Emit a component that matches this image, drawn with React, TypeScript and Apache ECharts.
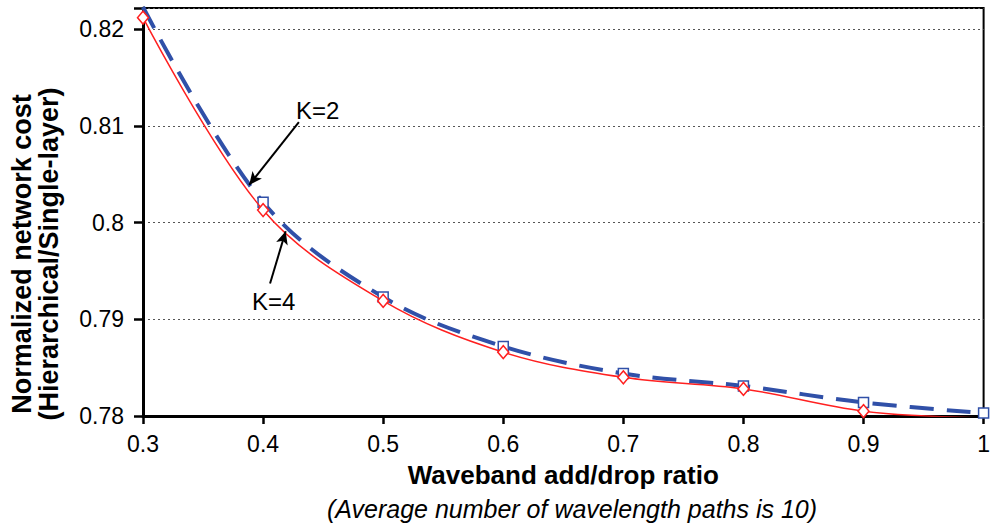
import React, { useEffect, useRef } from "react";
import * as echarts from "echarts";

const xValues = [0.3, 0.4, 0.5, 0.6, 0.7, 0.8, 0.9, 1.0];
const k2Values = [0.8223, 0.8021, 0.7923, 0.7872, 0.7844, 0.7831, 0.7814, 0.7803];
const k4Values = [0.8212, 0.8013, 0.7919, 0.7866, 0.784, 0.7828, 0.7805, 0.7798];
const yTicks = [0.78, 0.79, 0.8, 0.81, 0.82];
const k2Label = "K=2";
const k4Label = "K=4";
const k2Arrow = [[0.4298, 0.8104], [0.3884, 0.8039]];
const k4Arrow = [[0.4058, 0.7937], [0.4188, 0.7991]];

const FONT = "Liberation Sans, Arial, sans-serif";

export default function App() {
  const ref = useRef<HTMLDivElement>(null);
  useEffect(() => {
    const chart = echarts.init(ref.current!, undefined, { renderer: "svg" });
    const arrowLine = (pts: number[][]) => ({
      silent: true,
      symbol: ["none", "arrow"],
      symbolSize: [9, 13],
      label: { show: false },
      lineStyle: { color: "#000", width: 2, type: "solid" },
      data: [[{ coord: pts[0] }, { coord: pts[1] }]],
    });
    chart.setOption({
      animation: false,
      backgroundColor: "#fff",
      textStyle: { fontFamily: FONT },
      grid: {
        left: 143, right: 3, top: 8, bottom: 114,
        show: true, borderColor: "#000", borderWidth: 2,
      },
      xAxis: {
        type: "value", min: 0.3, max: 1, interval: 0.1,
        name: "Waveband add/drop ratio",
        nameLocation: "middle", nameGap: 46,
        nameTextStyle: { fontSize: 26, fontWeight: "bold", color: "#000", fontFamily: FONT },
        axisLine: { show: true, lineStyle: { color: "#000", width: 3 } },
        axisTick: { show: true, length: 8, lineStyle: { color: "#000", width: 2.5 } },
        axisLabel: {
          fontSize: 23, color: "#000", margin: 16, fontFamily: FONT,
          formatter: (v: number) => String(Math.round(v * 10) / 10),
        },
        splitLine: { show: false },
      },
      yAxis: {
        type: "value", min: 0.78, max: 0.8222, interval: 0.01,
        axisLine: { show: true, lineStyle: { color: "#000", width: 3 } },
        axisTick: { show: true, length: 9, lineStyle: { color: "#000", width: 2.5 } },
        axisLabel: {
          fontSize: 23, color: "#000", margin: 19, fontFamily: FONT,
          formatter: (v: number) => {
            const m = yTicks.find((t) => Math.abs(t - v) < 1e-6);
            return m === undefined ? "" : String(m);
          },
        },
        splitLine: { show: true, lineStyle: { color: "#555", width: 1, type: [2, 3] } },
      },
      series: [
        {
          name: k4Label,
          type: "line",
          smooth: 0.35,
          data: xValues.map((x, i) => [x, k4Values[i]]),
          symbol: "diamond",
          symbolSize: [11, 13],
          itemStyle: { color: "#fff", borderColor: "#ff2020", borderWidth: 1.5 },
          lineStyle: { color: "#ff2020", width: 1.5 },
          z: 3,
        },
        {
          name: k2Label,
          type: "line",
          smooth: 0.35,
          data: xValues.map((x, i) => [x, k2Values[i]]),
          symbol: "rect",
          symbolSize: 10,
          itemStyle: { color: "#fff", borderColor: "#3050a8", borderWidth: 1.5 },
          lineStyle: { color: "#3050a8", width: 4, type: [24, 13] },
          markLine: arrowLine(k2Arrow),
          z: 2,
        },
        {
          type: "line",
          data: [],
          markLine: arrowLine(k4Arrow),
        },
      ],
      graphic: [
        {
          type: "text", x: 35, y: 254, rotation: Math.PI / 2,
          style: {
            text: "Normalized network cost\n(Hierarchical/Single-layer)",
            font: `bold 27px ${FONT}`, lineHeight: 27, fill: "#000",
            align: "center", verticalAlign: "middle",
          },
        },
        {
          type: "text", x: 296, y: 110,
          style: { text: k2Label, font: `24px ${FONT}`, fill: "#000", verticalAlign: "middle" },
        },
        {
          type: "text", x: 252, y: 301,
          style: { text: k4Label, font: `24px ${FONT}`, fill: "#000", verticalAlign: "middle" },
        },
        {
          type: "text", x: 572, y: 509,
          style: {
            text: "(Average number of wavelength paths is 10)",
            font: `italic 25px ${FONT}`, fill: "#000", align: "center", verticalAlign: "middle",
          },
        },
      ],
    });
    return () => chart.dispose();
  }, []);
  return <div ref={ref} style={{ position: "fixed", left: 0, top: 0, width: 993, height: 530 }} />;
}
